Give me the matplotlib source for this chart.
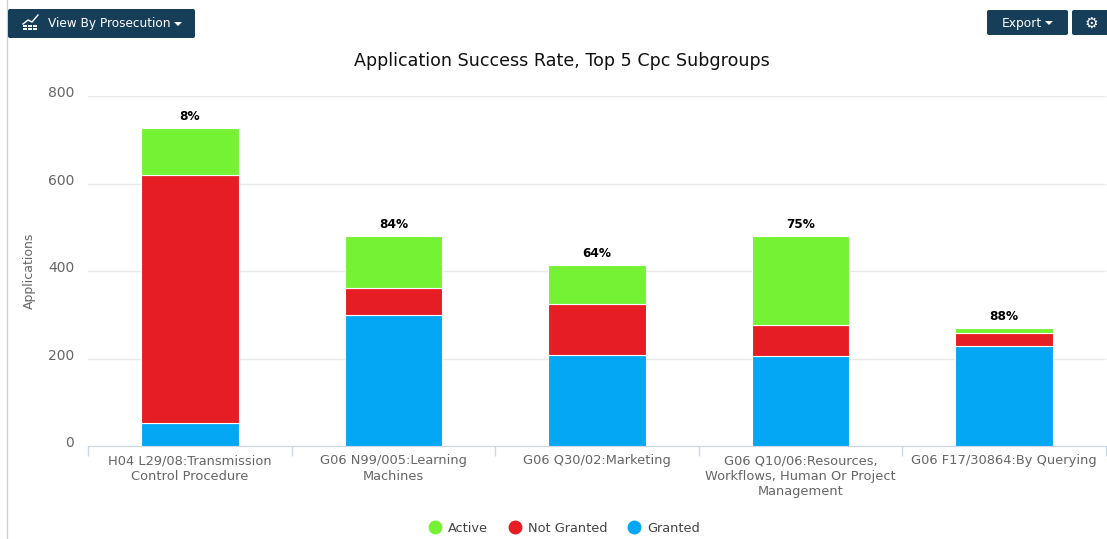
import matplotlib
matplotlib.use("Agg")
import matplotlib.pyplot as plt
import numpy as np
from matplotlib.lines import Line2D
from matplotlib.patches import FancyBboxPatch, Rectangle
from matplotlib.transforms import ScaledTranslation

categories = [
    "H04 L29/08:Transmission\nControl Procedure",
    "G06 N99/005:Learning\nMachines",
    "G06 Q30/02:Marketing",
    "G06 Q10/06:Resources,\nWorkflows, Human Or Project\nManagement",
    "G06 F17/30864:By Querying",
]
granted = [52, 300, 208, 206, 229]
not_granted = [567, 61, 117, 71, 29]
active = [108, 120, 89, 204, 12]
success = ["8%", "84%", "64%", "75%", "88%"]
y_ticks = [0, 200, 400, 600, 800]

GREEN = "#76f235"
RED = "#e71d25"
BLUE = "#03a7f3"
NAVY = "#173e58"
GREY = "#666666"
W, H = 1107, 539

plt.rcParams["font.family"] = "DejaVu Sans"

fig = plt.figure(figsize=(W / 100, H / 100), dpi=100)
ax = fig.add_axes([88 / W, (H - 446) / H, (1106 - 88) / W, 350 / H])

x = np.arange(len(categories))
g = np.array(granted)
n = np.array(not_granted)
a = np.array(active)
ax.bar(x, g, width=0.48, color=BLUE, edgecolor="white", linewidth=0.8, zorder=3)
ax.bar(x, n, width=0.48, bottom=g, color=RED, edgecolor="white", linewidth=0.8, zorder=3)
ax.bar(x, a, width=0.48, bottom=g + n, color=GREEN, edgecolor="white", linewidth=0.8, zorder=3)

for i in range(len(x)):
    ax.text(x[i], g[i] + n[i] + a[i] + 26, success[i], ha="center", va="center",
            fontsize=8.7, fontweight="bold", color="black", zorder=4)

ax.set_xlim(-0.5, len(x) - 0.5)
ax.set_ylim(0, 800)
ax.set_yticks(y_ticks)
ax.grid(axis="y", color="#e8e8e8", linewidth=1, zorder=0)
ax.tick_params(axis="y", length=0, pad=10, labelsize=10, labelcolor=GREY)
for lab in ax.get_yticklabels():
    lab.set_transform(lab.get_transform() + ScaledTranslation(0, 3 / 72, fig.dpi_scale_trans))

# ticks on the category edges, labels in the middle
ax.set_xticks(np.arange(len(x) + 1) - 0.5)
ax.set_xticklabels([])
ax.set_xticks(x, minor=True)
ax.set_xticklabels(categories, minor=True, fontsize=9.4, color=GREY, linespacing=1.22)
ax.tick_params(axis="x", which="major", length=7, width=1, color="#ccd6eb")
ax.tick_params(axis="x", which="minor", length=0, pad=6)

for s in ["top", "right", "left"]:
    ax.spines[s].set_visible(False)
ax.spines["bottom"].set_color("#ccd6eb")

ax.set_ylabel("Applications", fontsize=9, color=GREY)
ax.yaxis.set_label_coords((36 - 88) / (1106 - 88), 0.5)

handles = [
    Line2D([], [], marker="o", linestyle="", markersize=9, color=GREEN, label="Active"),
    Line2D([], [], marker="o", linestyle="", markersize=9, color=RED, label="Not Granted"),
    Line2D([], [], marker="o", linestyle="", markersize=9, color=BLUE, label="Granted"),
]
fig.legend(handles=handles, ncol=3, frameon=False, fontsize=9.3, labelcolor="#444444",
           loc="center", bbox_to_anchor=(561 / W, (H - 528) / H),
           handletextpad=0.0, columnspacing=1.1, borderpad=0)

# page furniture in pixel coordinates
over = fig.add_axes([0, 0, 1, 1], zorder=-1)
top = fig.add_axes([0, 0, 1, 1], zorder=5)
for o in [over, top]:
    o.set_xlim(0, W)
    o.set_ylim(H, 0)
    o.axis("off")
top.patch.set_alpha(0)

over.plot([7, 7], [0, H], color="#d0d0d0", linewidth=1)


def button(x0, y0, x1, y1):
    top.add_patch(FancyBboxPatch((x0 + 2, y0 + 2), x1 - x0 - 4, y1 - y0 - 4,
                                 boxstyle="round,pad=2", facecolor=NAVY, edgecolor="none"))


def caret(cx, cy):
    top.fill([cx - 4, cx + 4, cx], [cy - 2, cy - 2, cy + 2], color="white", linewidth=0)


button(8, 9, 195, 38)
button(987, 10, 1068, 35)
button(1072, 10, 1110, 35)

top.text(48, 23, "View By Prosecution", color="white", fontsize=8.7, va="center", ha="left")
caret(178, 24)
top.text(1002, 23, "Export", color="white", fontsize=8.8, va="center", ha="left")
caret(1049, 23)
top.text(1091, 23, "\u2699", color="white", fontsize=11, fontweight="bold", va="center", ha="center")

# chart icon on the left button
top.plot([23, 28, 32, 38], [24, 20, 22, 15], color="white", linewidth=1)
for bx in [23, 28, 33]:
    for by in [25, 28]:
        top.add_patch(Rectangle((bx, by), 4, 2.2, facecolor="white", edgecolor="none"))

top.text(562, 61, "Application Success Rate, Top 5 Cpc Subgroups", color="#111111",
         fontsize=12.6, ha="center", va="center")

fig.savefig("out.png", dpi=100, facecolor="white")
